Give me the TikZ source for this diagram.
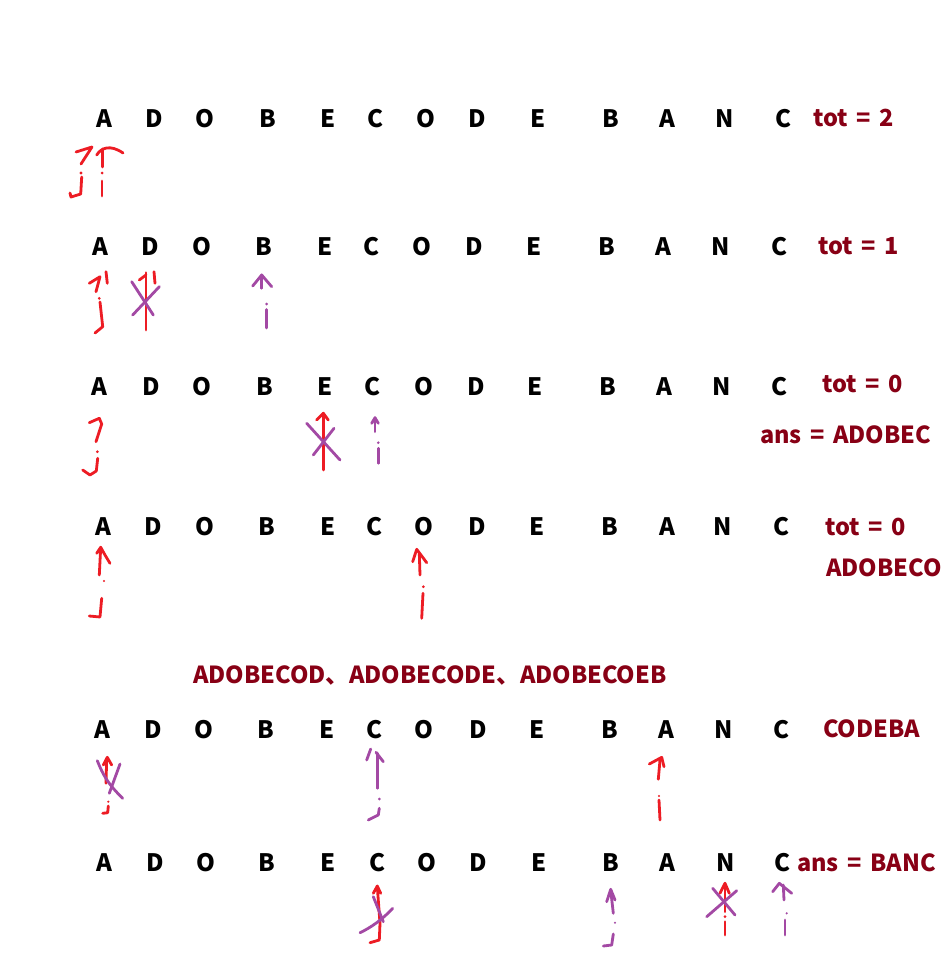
\documentclass[tikz,border=0pt]{standalone}
\usepackage{fontspec}
\setmainfont{Noto Sans CJK SC}
\definecolor{darkred}{RGB}{136,0,21}
\definecolor{pred}{RGB}{237,28,36}
\definecolor{ppur}{RGB}{163,73,164}
\newcommand\mylabfont{\fontsize{23.5}{23.5}\selectfont\bfseries\spaceskip=8.5pt\relax}
\begin{document}
\begin{tikzpicture}[x=1pt,y=-1pt,
  letter/.style={anchor=base,inner sep=0pt,font=\fontsize{24}{24}\selectfont\bfseries},
  lab/.style={anchor=base west,inner sep=0pt,text=darkred,font=\mylabfont},
  rs/.style={draw=pred,line width=2.8pt,line cap=round,line join=round},
  ps/.style={draw=ppur,line width=2.8pt,line cap=round,line join=round},
  rdot/.style={fill=pred},
  pdot/.style={fill=ppur}]
\useasboundingbox (0,0) rectangle (946,971);
\fill[white] (0,0) rectangle (946,971);
% letter rows
\foreach \x/\l [count=\k] in {104/A,154/D,205/O,268/B,328/E,375/C,426/O,477/D,538/E,611/B,667/A,725/N,783/C}
  \node[letter] (ra\k) at (\x,128) {\l};
\foreach \x/\l [count=\k] in {100/A,150/D,202/O,264/B,325/E,371/C,422/O,474/D,534/E,607/B,663/A,721/N,779/C}
  \node[letter] (rb\k) at (\x,255) {\l};
\foreach \x/\l [count=\k] in {99/A,151/D,202/O,265/B,325/E,372/C,424/O,476/D,535/E,608/B,664/A,722/N,779/C}
  \node[letter] (rc\k) at (\x,395.5) {\l};
\foreach \x/\l [count=\k] in {103/A,153/D,205/O,267/B,328/E,374/C,424/O,477/D,537/E,610/B,667/A,723/N,781/C}
  \node[letter] (rd\k) at (\x,535.5) {\l};
\foreach \x/\l [count=\k] in {102/A,153/D,204/O,266/B,327/E,374/C,424/O,478/D,537/E,610/B,666/A,724/N,781/C}
  \node[letter] (re\k) at (\x,738) {\l};
\foreach \x/\l [count=\k] in {104/A,155/D,206/O,267/B,328/E,377/C,427/O,478/D,539/E,611/B,667/A,726/N,782/C}
  \node[letter] (rf\k) at (\x,871.5) {\l};
% labels
\node[lab] (la) at (813,126) {tot = 2};
\node[lab] (lb) at (818,254) {tot = 1};
\node[lab] (lc) at (822,392) {tot = 0};
\node[lab] (ld) at (760,443) {ans = ADOBEC};
\node[lab] (le) at (825,535) {tot = 0};
\node[lab] (lf) at (826,576) {ADOBECO};
\node[lab] (lg) at (193,683) {ADOBECOD、ADOBECODE、ADOBECOEB};
\node[lab] (lh) at (823,737) {CODEBA};
\node[lab] (li) at (797,871) {ans = BANC};
% ---- row 1
\draw[rs] (76,152) -- (92,147) -- (81,164);
\fill[rdot] (81,173) circle (1.6);
\draw[rs] (81.7,177) -- (80.7,194) -- (71,197) -- (70,193);
\draw[rs] (96.7,155) .. controls (101,148) and (110,144) .. (123,153);
\draw[rs] (102.7,149) -- (102.7,167);
\fill[rdot] (102,173) circle (1.5);
\draw[rs] (102,181) -- (102,196);
% ---- row 2
\draw[rs] (89.3,283.3) -- (100,276.7) -- (96,291.7);
\draw[rs] (106,271.7) -- (107.3,283.3);
\fill[rdot] (99.3,298.3) circle (1.5);
\draw[rs] (100,302) -- (102.7,326.7) -- (95,333);
\draw[rs] (139.3,280) -- (146,275);
\draw[rs] (146,272.7) -- (146,330);
\draw[rs] (154,271.7) -- (155,283.3);
\draw[ps] (131.7,281.7) -- (153.3,315);
\draw[ps] (132.7,315) -- (159.3,286.7);
\draw[ps] (252.7,286) -- (261.7,275) -- (271.7,286.7);
\draw[ps] (261.7,275) -- (261.7,288.3);
\fill[pdot] (266.7,304) circle (1.5);
\draw[ps] (266.7,309.5) -- (266.7,328);
% ---- row 3
\draw[rs] (89.3,422.7) -- (99.3,418.3) -- (101.7,424) -- (96,441.7);
\fill[rdot] (97.3,451.7) circle (1.5);
\draw[rs] (97.7,458.3) -- (96.3,471) -- (90,475) -- (82.7,470);
\draw[rs] (316.7,420) -- (323.3,413.3) -- (328.3,420);
\draw[rs] (323.3,413.3) -- (323.3,470);
\draw[ps] (306.7,423.3) -- (340,460);
\draw[ps] (313.3,455) -- (334,428.3);
\draw[ps] (371.7,423.3) -- (375,417.7) -- (378.3,423.3);
\draw[ps] (375,417.7) -- (375,431.7);
\fill[pdot] (378.3,442.7) circle (1.4);
\draw[ps] (378.3,448.3) -- (378.3,463.3);
% ---- row 4
\draw[rs] (96.7,553.3) -- (100.7,547.3) -- (105,555) -- (110,563.3);
\draw[rs] (100.7,547.3) -- (99.3,575);
\fill[rdot] (104,581) circle (1.2);
\draw[rs] (101.7,598.3) -- (100,617) -- (89.3,616);
\draw[rs] (412.7,561.7) -- (416.7,549.3) -- (426.7,562.7);
\draw[rs] (419.3,553.3) -- (420,575);
\fill[rdot] (423.3,586.7) circle (1.5);
\draw[rs] (423,593.3) -- (421.7,618.3);
% ---- row 5
\draw[rs] (103.3,765) -- (107.3,757.3) -- (111.7,765);
\draw[rs] (106.7,758.3) -- (106,783.3);
\draw[ps] (97.3,760.7) .. controls (103,775) and (108,784) .. (122.7,798.3);
\draw[ps] (120,764) -- (109.3,793.3);
\fill[rdot] (108.3,801.7) circle (1.2);
\draw[rs] (108.3,806) -- (107.7,812.7) -- (102.7,813.3);
\draw[ps] (376,752.3) -- (383.3,761.7);
\draw[ps] (377.3,753.3) -- (377.3,788.3);
\draw[ps] (370.7,749) -- (366.7,760);
\fill[pdot] (379.3,799) circle (1.5);
\draw[ps] (379.3,808.3) -- (378.3,815) -- (368.3,820);
\draw[rs] (649.3,764) -- (661.7,757.3) -- (664,766.7);
\draw[rs] (660,760) -- (658.3,779.3);
\fill[rdot] (659,796) circle (1.2);
\draw[rs] (659,800) -- (660,820);
% ---- row 6
\draw[rs] (373.3,893.3) -- (377.3,886) -- (380.7,893.3);
\draw[rs] (377.3,886.7) -- (380,923.3) -- (379.3,940) -- (370,942.7);
\draw[ps] (373.3,896.7) -- (383.3,921.7);
\draw[ps] (360,932.7) .. controls (370,928) and (382,920) .. (392.7,908.3);
\draw[ps] (606.7,901.7) -- (610.7,889.3) -- (615,900);
\draw[ps] (610.7,890) -- (613.3,913.3);
\fill[pdot] (615,922.7) circle (1.2);
\draw[ps] (613.3,934) -- (611.7,945) -- (603.3,946);
\draw[rs] (720,893.3) -- (725,883.3) -- (729.3,893.3);
\draw[rs] (725,883.3) -- (725,911.7);
\fill[rdot] (725,916.7) circle (1.5);
\draw[rs] (725,921.7) -- (725,935);
\draw[ps] (712.7,888.3) -- (735,915);
\draw[ps] (706.7,916.7) -- (736.7,890.7);
\draw[ps] (772.7,891.7) -- (779.3,883.3) -- (791.7,893.3);
\draw[ps] (783.3,885) -- (784,900);
\fill[pdot] (786.7,913.3) circle (1.2);
\draw[ps] (785,920) -- (785,935);
\end{tikzpicture}
\end{document}
